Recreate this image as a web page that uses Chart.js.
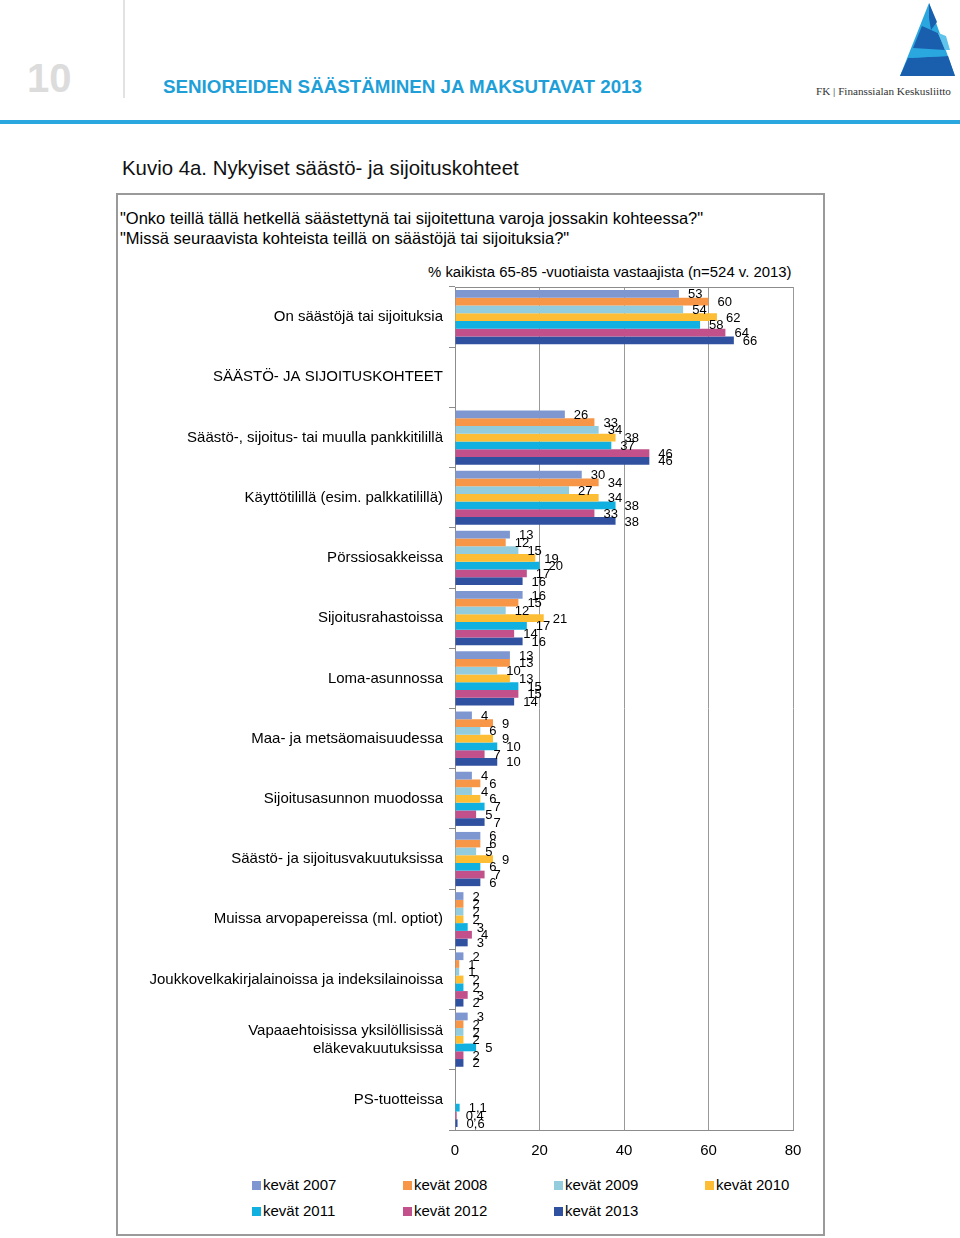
<!DOCTYPE html>
<html>
<head>
<meta charset="utf-8">
<script src="https://cdn.jsdelivr.net/npm/chart.js@4.4.1/dist/chart.umd.min.js"></script>
<style>
  html, body { margin: 0; padding: 0; background: #fff; }
  body { width: 960px; height: 1238px; position: relative; overflow: hidden;
         font-family: "Liberation Sans", Arial, sans-serif; color: #000; }
  .abs { position: absolute; white-space: nowrap; }
  #pageNo { left: 27px; top: 56px; font-size: 40px; font-weight: bold; color: #dcdcdc; }
  #vline { left: 123px; top: 0; width: 2px; height: 98px; background: #e2e2e2; }
  #hdr { left: 163px; top: 76px; font-size: 18.8px; font-weight: bold; color: #1e9fd8; }
  #blueLine { left: 0; top: 120px; width: 960px; height: 4px; background: #2aa7df; }
  #logoText { left: 816px; top: 85px; font-family: "Liberation Serif", serif; font-size: 11.2px; color: #333; }
  #kuvio { left: 122px; top: 157px; font-size: 20.4px; color: #111; }
  #box { left: 116px; top: 193px; width: 705px; height: 1039px; border: 2px solid #9a9a9a; }
  #q1 { left: 120px; top: 209px; font-size: 16.5px; }
  #q2 { left: 120px; top: 229px; font-size: 16.5px; }
  #note { left: 428px; top: 264px; font-size: 14.9px; }
  #chartWrap { left: 117px; top: 272px; width: 705px; height: 893px; }
  #legend { left: 252px; top: 1176px; width: 560px; font-size: 15px; }
  #legend span.item { position: absolute; white-space: nowrap; }
  #legend span.sw { display: inline-block; width: 9px; height: 9px; margin-right: 2px; vertical-align: 0px; }
</style>
</head>
<body>
<div class="abs" id="pageNo">10</div>
<div class="abs" id="vline"></div>
<div class="abs" id="hdr">SENIOREIDEN SÄÄSTÄMINEN JA MAKSUTAVAT 2013</div>
<svg class="abs" style="left:896px;top:0px" width="64" height="80" viewBox="896 0 64 80">
  <polygon points="929,3 955,76 900,76" fill="#2aa7df"/>
  <polygon points="929,3 937,22 931,30 929,18" fill="#1a5fae"/>
  <polygon points="922,26 938,33 945,50 913,48" fill="#1a5fae"/>
  <polygon points="931,30 946,36 950,50 945,50 938,33" fill="#5fc3ec"/>
  <polygon points="908,58 948,56 955,76 900,76" fill="#1a5fae"/>
  <polygon points="908,58 925,54 948,56" fill="#2aa7df"/>
</svg>
<div class="abs" id="logoText">FK | Finanssialan Keskusliitto</div>
<div class="abs" id="blueLine"></div>
<div class="abs" id="kuvio">Kuvio 4a. Nykyiset säästö- ja sijoituskohteet</div>
<div class="abs" id="box"></div>
<div class="abs" id="q1">"Onko teillä tällä hetkellä säästettynä tai sijoitettuna varoja jossakin kohteessa?"</div>
<div class="abs" id="q2">"Missä seuraavista kohteista teillä on säästöjä tai sijoituksia?"</div>
<div class="abs" id="note">% kaikista 65-85 -vuotiaista vastaajista (n=524 v. 2013)</div>
<div class="abs" id="chartWrap"><canvas id="savings-chart" width="705" height="893"></canvas></div>
<div class="abs" id="legend"></div>

<script>
const categories = [
  'On säästöjä tai sijoituksia',
  'SÄÄSTÖ- JA SIJOITUSKOHTEET',
  'Säästö-, sijoitus- tai muulla pankkitilillä',
  'Käyttötilillä (esim. palkkatilillä)',
  'Pörssiosakkeissa',
  'Sijoitusrahastoissa',
  'Loma-asunnossa',
  'Maa- ja metsäomaisuudessa',
  'Sijoitusasunnon muodossa',
  'Säästö- ja sijoitusvakuutuksissa',
  'Muissa arvopapereissa (ml. optiot)',
  'Joukkovelkakirjalainoissa ja indeksilainoissa',
  ['Vapaaehtoisissa yksilöllisissä', 'eläkevakuutuksissa'],
  'PS-tuotteissa'
];

const seriesNames = ['kevät 2007', 'kevät 2008', 'kevät 2009', 'kevät 2010', 'kevät 2011', 'kevät 2012', 'kevät 2013'];
const seriesColors = ['#7f97d1', '#f79646', '#93cddd', '#fdbd35', '#10b0e0', '#c1508b', '#3050a0'];

const v2007 = [53, null, 26, 30, 13, 16, 13, 4, 4, 6, 2, 2, 3, null];
const v2008 = [60, null, 33, 34, 12, 15, 13, 9, 6, 6, 2, 1, 2, null];
const v2009 = [54, null, 34, 27, 15, 12, 10, 6, 4, 5, 2, 1, 2, null];
const v2010 = [62, null, 38, 34, 19, 21, 13, 9, 6, 9, 2, 2, 2, null];
const v2011 = [58, null, 37, 38, 20, 17, 15, 10, 7, 6, 3, 2, 5, 1.1];
const v2012 = [64, null, 46, 33, 17, 14, 15, 7, 5, 7, 4, 3, 2, 0.4];
const v2013 = [66, null, 46, 38, 16, 16, 14, 10, 7, 6, 3, 2, 2, 0.6];

const xTicks = [0, 20, 40, 60, 80];

const allValues = [v2007, v2008, v2009, v2010, v2011, v2012, v2013];

// value labels at the bar ends, Finnish decimal comma
const barLabels = {
  id: 'barLabels',
  afterDatasetsDraw(chart) {
    const c = chart.ctx;
    c.save();
    c.font = '13px "Liberation Sans", Arial, sans-serif';
    c.fillStyle = '#000';
    c.textBaseline = 'middle';
    c.textAlign = 'left';
    chart.data.datasets.forEach((ds, i) => {
      chart.getDatasetMeta(i).data.forEach((bar, j) => {
        const v = ds.data[j];
        if (v === null) return;
        c.fillText(String(v).replace('.', ','), bar.x + 9, bar.y + 1);
      });
    });
    c.restore();
  }
};

// top edge of the plot frame
const plotFrame = {
  id: 'plotFrame',
  afterDraw(chart) {
    const a = chart.chartArea;
    const c = chart.ctx;
    c.save();
    c.strokeStyle = '#8c8c8c';
    c.lineWidth = 1;
    c.beginPath();
    c.moveTo(a.left, a.top + 0.5);
    c.lineTo(a.right, a.top + 0.5);
    c.stroke();
    c.restore();
  }
};

const ctx = document.getElementById('savings-chart');
new Chart(ctx, {
  type: 'bar',
  data: {
    labels: categories,
    datasets: seriesNames.map((name, i) => ({
      label: name,
      data: allValues[i],
      backgroundColor: seriesColors[i],
      borderWidth: 0,
      categoryPercentage: 0.9,
      barPercentage: 1.0
    }))
  },
  options: {
    indexAxis: 'y',
    responsive: false,
    animation: false,
    layout: { padding: { top: 1, right: 29, left: 0, bottom: 0 } },
    scales: {
      x: {
        min: 0,
        max: 80,
        afterBuildTicks: (s) => { s.ticks = xTicks.map(v => ({ value: v })); },
        afterFit: (s) => { s.height = 35; },
        grid: { color: '#999', drawTicks: false },
        border: { color: '#8c8c8c' },
        ticks: { padding: 12, color: '#000', font: { size: 15, family: '"Liberation Sans", Arial, sans-serif' } }
      },
      y: {
        afterFit: (s) => { s.width = 338; },
        grid: { drawOnChartArea: false, drawTicks: true, tickLength: 6, color: '#8c8c8c' },
        border: { color: '#8c8c8c' },
        ticks: { padding: 6, color: '#000', font: { size: 15, family: '"Liberation Sans", Arial, sans-serif' } }
      }
    },
    plugins: {
      legend: { display: false },
      tooltip: { enabled: false }
    }
  },
  plugins: [barLabels, plotFrame]
});

// legend laid out in four columns
const legendEl = document.getElementById('legend');
seriesNames.forEach((name, i) => {
  const item = document.createElement('span');
  item.className = 'item';
  item.style.left = (i % 4) * 151 + 'px';
  item.style.top = Math.floor(i / 4) * 26 + 'px';
  item.innerHTML = `<span class="sw" style="background:${seriesColors[i]}"></span>${name}`;
  legendEl.appendChild(item);
});
</script>
</body>
</html>
